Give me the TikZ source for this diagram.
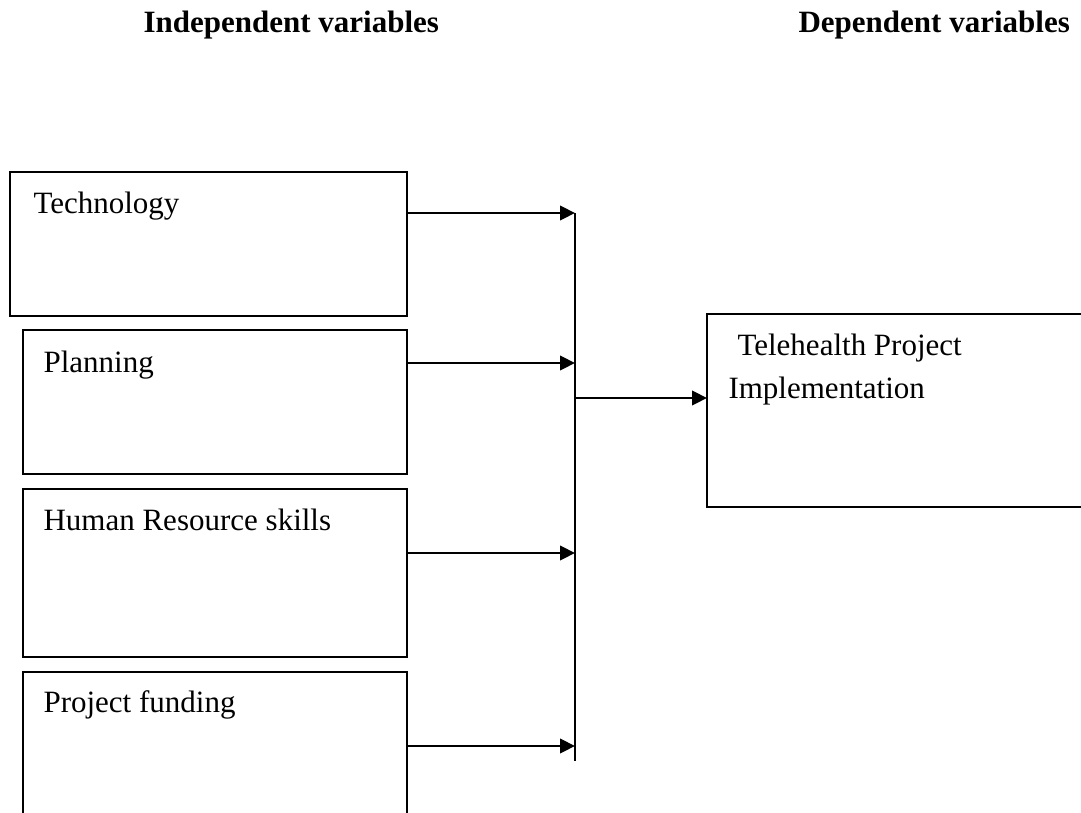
\documentclass[tikz,border=0pt]{standalone}
\usepackage{fontspec}
\setmainfont{Liberation Serif}
\usetikzlibrary{arrows.meta,calc}

\tikzset{
  box/.style={draw, line width=0.8pt, inner sep=0pt, outer sep=0pt, anchor=north west},
  lbl/.style={inner sep=0pt, anchor=base west, font=\fontsize{12}{14}\selectfont},
  head/.style={lbl, font=\fontsize{12}{14}\selectfont\bfseries},
  link/.style={-{Triangle[length=5.8pt,width=5.6pt]}, line width=0.9pt}
}

\begin{document}
\begin{tikzpicture}[x=0.387pt, y=-0.387pt]
  \useasboundingbox (0,0) rectangle (1081,813);

  % column headings
  \node[head] (indep) at (143,32) {Independent variables};
  \node[head] (dep) at (798,32) {Dependent variables};

  % independent variables
  \node[box, minimum width=397*0.387pt, minimum height=144*0.387pt] (tech) at (10,172) {};
  \node[box, minimum width=384*0.387pt, minimum height=144*0.387pt] (plan) at (23,330) {};
  \node[box, minimum width=384*0.387pt, minimum height=168*0.387pt] (hr) at (23,489) {};
  \node[box, minimum width=384*0.387pt, minimum height=170*0.387pt] (fund) at (23,672) {};

  \node[lbl] (techtxt) at ($(tech.north west)+(23,41)$) {Technology};
  \node[lbl] (plantxt) at ($(plan.north west)+(20,42)$) {Planning};
  \node[lbl] (hrtxt) at ($(hr.north west)+(20,41)$) {Human Resource skills};
  \node[lbl] (fundtxt) at ($(fund.north west)+(20,40)$) {Project funding};

  % dependent variable
  \node[box, line width=0.7pt, minimum width=420*0.387pt, minimum height=193*0.387pt] (impl) at (707,314) {};
  \node[lbl] (impltxt1) at ($(impl.north west)+(30,41)$) {Telehealth Project};
  \node[lbl] (impltxt2) at ($(impl.north west)+(21,84)$) {Implementation};

  % collecting line
  \coordinate (bus1) at (575,213);
  \coordinate (bus2) at (575,363);
  \coordinate (bus3) at (575,553);
  \coordinate (bus4) at (575,746);
  \coordinate (busend) at (575,761);
  \coordinate (busout) at (575,398);

  \draw[line width=0.8pt] (bus1) -- (busend);
  \draw[link] (tech.east |- bus1) -- (bus1);
  \draw[link] (plan.east |- bus2) -- (bus2);
  \draw[link] (hr.east |- bus3) -- (bus3);
  \draw[link] (fund.east |- bus4) -- (bus4);
  \draw[link] (busout) -- (impl.west |- busout);
\end{tikzpicture}
\end{document}
